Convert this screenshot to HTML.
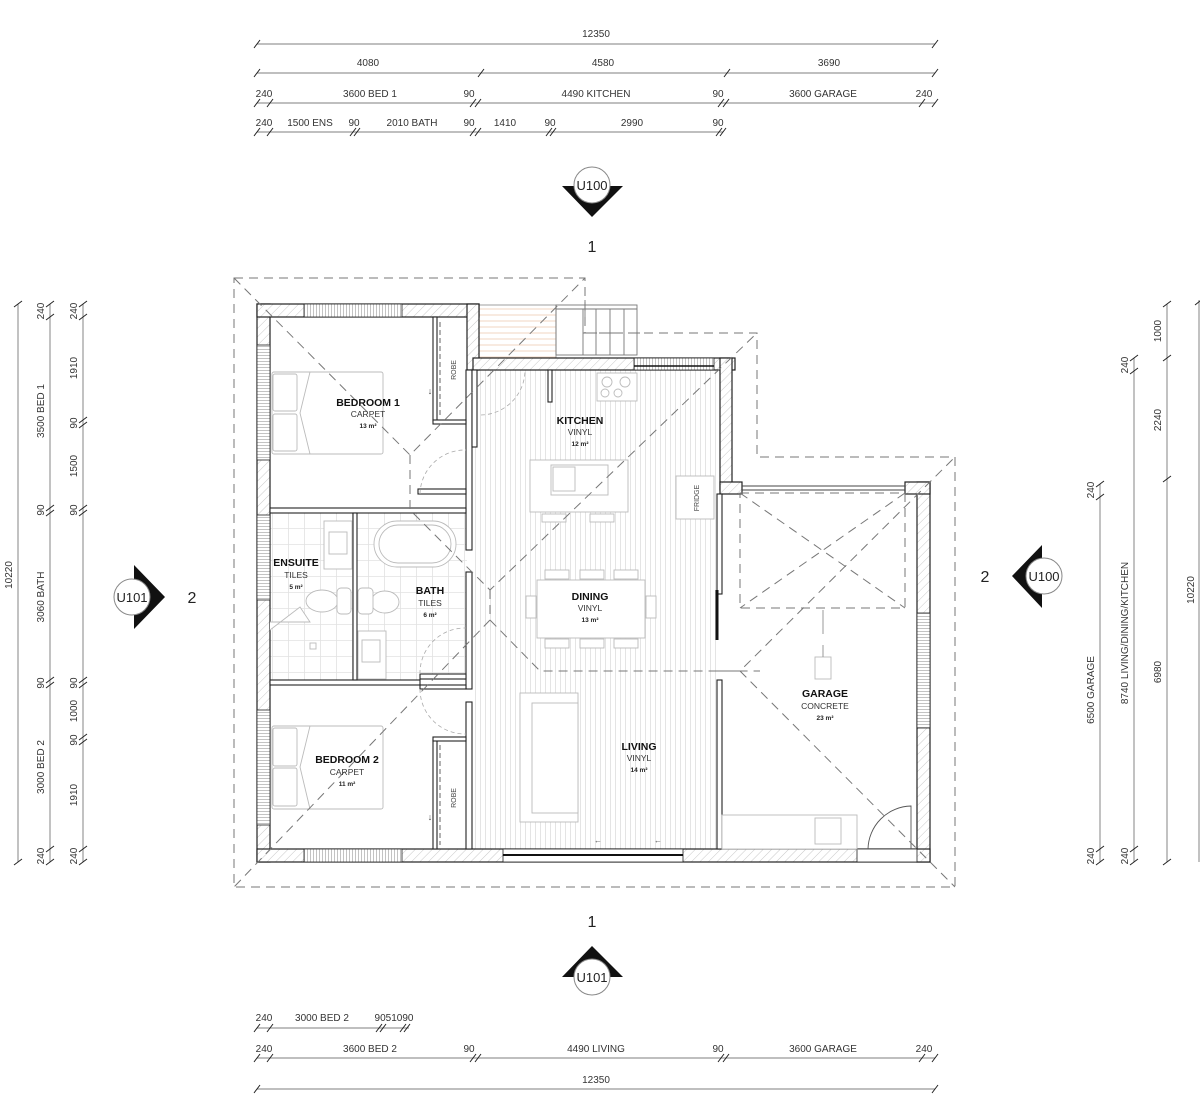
<!DOCTYPE html>
<html><head><meta charset="utf-8"><style>
html,body{margin:0;padding:0;background:#fff;}
svg{display:block;}
text{font-family:"Liberation Sans",sans-serif;}
.d{font-size:10px;fill:#333;}
.rl{font-size:10.5px;font-weight:bold;fill:#111;text-anchor:middle;}
.rs{font-size:8.5px;fill:#333;text-anchor:middle;}
.ra{font-size:6.5px;font-weight:bold;fill:#222;text-anchor:middle;}
.dl{stroke:#999;stroke-width:1.2;fill:none;}
.tk{stroke:#222;stroke-width:1;}
.w{fill:url(#hatch);stroke:#222;stroke-width:1.2;}
.iw{fill:#fff;stroke:#222;stroke-width:1.1;}
.da{stroke:#777;stroke-width:1;fill:none;stroke-dasharray:9,6;}
.f{fill:#fff;stroke:#bbb;stroke-width:0.9;}
</style></head><body>
<svg width="1200" height="1118" viewBox="0 0 1200 1118" xmlns="http://www.w3.org/2000/svg">
<defs>
<pattern id="hatch" width="6" height="6" patternUnits="userSpaceOnUse" patternTransform="rotate(45)"><rect width="6" height="6" fill="#fff"/><line x1="0" y1="0" x2="0" y2="6" stroke="#bbb" stroke-width="0.8"/></pattern>
<pattern id="vinyl" width="5" height="10" patternUnits="userSpaceOnUse"><rect width="5" height="10" fill="#fff"/><line x1="0.5" y1="0" x2="0.5" y2="10" stroke="#ddd" stroke-width="0.8"/></pattern>
<pattern id="tile" width="16" height="16" patternUnits="userSpaceOnUse"><rect width="16" height="16" fill="#fff"/><path d="M0 0.5H16M0.5 0V16" stroke="#e2e2e2" stroke-width="0.8"/></pattern>
<pattern id="deck" width="10" height="6" patternUnits="userSpaceOnUse"><rect width="10" height="6" fill="#fff"/><line x1="0" y1="3" x2="10" y2="3" stroke="#f2d6c2" stroke-width="1"/></pattern>
<pattern id="win" width="3" height="3" patternUnits="userSpaceOnUse"><rect width="3" height="3" fill="#fff"/><line x1="0" y1="1.5" x2="3" y2="1.5" stroke="#aaa" stroke-width="0.7"/></pattern>
<pattern id="winv" width="3" height="3" patternUnits="userSpaceOnUse"><rect width="3" height="3" fill="#fff"/><line x1="1.5" y1="0" x2="1.5" y2="3" stroke="#aaa" stroke-width="0.7"/></pattern>
</defs>

<!-- ===== TOP DIMENSIONS ===== -->
<g>
<line class="dl" x1="257" y1="44" x2="935" y2="44"/>
<line class="dl" x1="257" y1="73" x2="935" y2="73"/>
<line class="dl" x1="257" y1="103" x2="935" y2="103"/>
<line class="dl" x1="257" y1="132" x2="723" y2="132"/>
<g class="tk">
<path d="M254 48L260 40M932 48L938 40"/>
<path d="M254 77L260 69M478 77L484 69M724 77L730 69M932 77L938 69"/>
<path d="M254 107L260 99M267 107L273 99M470 107L476 99M475 107L481 99M718 107L724 99M723 107L729 99M919 107L925 99M932 107L938 99"/>
<path d="M254 136L260 128M267 136L273 128M350 136L356 128M354 136L360 128M470 136L476 128M475 136L481 128M546 136L552 128M550 136L556 128M716 136L722 128M720 136L726 128"/>
</g>
<text class="d" x="596" y="37" text-anchor="middle">12350</text>
<text class="d" x="368" y="66" text-anchor="middle">4080</text>
<text class="d" x="603" y="66" text-anchor="middle">4580</text>
<text class="d" x="829" y="66" text-anchor="middle">3690</text>
<text class="d" x="264" y="97" text-anchor="middle">240</text>
<text class="d" x="370" y="97" text-anchor="middle">3600 BED 1</text>
<text class="d" x="469" y="97" text-anchor="middle">90</text>
<text class="d" x="596" y="97" text-anchor="middle">4490 KITCHEN</text>
<text class="d" x="718" y="97" text-anchor="middle">90</text>
<text class="d" x="823" y="97" text-anchor="middle">3600 GARAGE</text>
<text class="d" x="924" y="97" text-anchor="middle">240</text>
<text class="d" x="264" y="126" text-anchor="middle">240</text>
<text class="d" x="310" y="126" text-anchor="middle">1500 ENS</text>
<text class="d" x="354" y="126" text-anchor="middle">90</text>
<text class="d" x="412" y="126" text-anchor="middle">2010 BATH</text>
<text class="d" x="469" y="126" text-anchor="middle">90</text>
<text class="d" x="505" y="126" text-anchor="middle">1410</text>
<text class="d" x="550" y="126" text-anchor="middle">90</text>
<text class="d" x="632" y="126" text-anchor="middle">2990</text>
<text class="d" x="718" y="126" text-anchor="middle">90</text>
</g>

<!-- ===== BOTTOM DIMENSIONS ===== -->
<g>
<line class="dl" x1="257" y1="1028" x2="409" y2="1028"/>
<line class="dl" x1="257" y1="1058" x2="935" y2="1058"/>
<line class="dl" x1="257" y1="1089" x2="935" y2="1089"/>
<g class="tk">
<path d="M254 1032L260 1024M267 1032L273 1024M376 1032L382 1024M380 1032L386 1024M400 1032L406 1024M404 1032L410 1024"/>
<path d="M254 1062L260 1054M267 1062L273 1054M470 1062L476 1054M475 1062L481 1054M718 1062L724 1054M723 1062L729 1054M919 1062L925 1054M932 1062L938 1054"/>
<path d="M254 1093L260 1085M932 1093L938 1085"/>
</g>
<text class="d" x="264" y="1021" text-anchor="middle">240</text>
<text class="d" x="322" y="1021" text-anchor="middle">3000 BED 2</text>
<text class="d" x="394" y="1021" text-anchor="middle">9051090</text>
<text class="d" x="264" y="1052" text-anchor="middle">240</text>
<text class="d" x="370" y="1052" text-anchor="middle">3600 BED 2</text>
<text class="d" x="469" y="1052" text-anchor="middle">90</text>
<text class="d" x="596" y="1052" text-anchor="middle">4490 LIVING</text>
<text class="d" x="718" y="1052" text-anchor="middle">90</text>
<text class="d" x="823" y="1052" text-anchor="middle">3600 GARAGE</text>
<text class="d" x="924" y="1052" text-anchor="middle">240</text>
<text class="d" x="596" y="1083" text-anchor="middle">12350</text>
</g>

<!-- ===== LEFT DIMENSIONS ===== -->
<g>
<line class="dl" x1="18" y1="304" x2="18" y2="862"/>
<line class="dl" x1="50" y1="304" x2="50" y2="862"/>
<line class="dl" x1="83" y1="304" x2="83" y2="862"/>
<g class="tk">
<path d="M14 307L22 301M14 865L22 859"/>
<path d="M46 307L54 301M46 320L54 314M46 511L54 505M46 516L54 510M46 683L54 677M46 688L54 682M46 852L54 846M46 865L54 859"/>
<path d="M79 307L87 301M79 320L87 314M79 423L87 417M79 428L87 422M79 511L87 505M79 516L87 510M79 683L87 677M79 688L87 682M79 740L87 734M79 745L87 739M79 852L87 846M79 865L87 859"/>
</g>
<g class="d" text-anchor="middle">
<text transform="translate(12,575) rotate(-90)">10220</text>
<text transform="translate(44,311) rotate(-90)">240</text>
<text transform="translate(44,411) rotate(-90)">3500 BED 1</text>
<text transform="translate(44,510) rotate(-90)">90</text>
<text transform="translate(44,597) rotate(-90)">3060 BATH</text>
<text transform="translate(44,683) rotate(-90)">90</text>
<text transform="translate(44,767) rotate(-90)">3000 BED 2</text>
<text transform="translate(44,856) rotate(-90)">240</text>
<text transform="translate(77,311) rotate(-90)">240</text>
<text transform="translate(77,368) rotate(-90)">1910</text>
<text transform="translate(77,423) rotate(-90)">90</text>
<text transform="translate(77,466) rotate(-90)">1500</text>
<text transform="translate(77,510) rotate(-90)">90</text>
<text transform="translate(77,683) rotate(-90)">90</text>
<text transform="translate(77,711) rotate(-90)">1000</text>
<text transform="translate(77,740) rotate(-90)">90</text>
<text transform="translate(77,795) rotate(-90)">1910</text>
<text transform="translate(77,856) rotate(-90)">240</text>
</g>
</g>

<!-- ===== RIGHT DIMENSIONS ===== -->
<g>
<line class="dl" x1="1100" y1="484" x2="1100" y2="862"/>
<line class="dl" x1="1134" y1="358" x2="1134" y2="862"/>
<line class="dl" x1="1167" y1="304" x2="1167" y2="862"/>
<line class="dl" x1="1199" y1="300" x2="1199" y2="862"/>
<g class="tk">
<path d="M1096 487L1104 481M1096 500L1104 494M1096 852L1104 846M1096 865L1104 859"/>
<path d="M1130 361L1138 355M1130 374L1138 368M1130 852L1138 846M1130 865L1138 859"/>
<path d="M1163 307L1171 301M1163 361L1171 355M1163 482L1171 476M1163 865L1171 859"/>
<path d="M1195 305L1200 301"/>
</g>
<g class="d" text-anchor="middle">
<text transform="translate(1094,490) rotate(-90)">240</text>
<text transform="translate(1094,690) rotate(-90)">6500 GARAGE</text>
<text transform="translate(1094,856) rotate(-90)">240</text>
<text transform="translate(1128,365) rotate(-90)">240</text>
<text transform="translate(1128,633) rotate(-90)">8740 LIVING/DINING/KITCHEN</text>
<text transform="translate(1128,856) rotate(-90)">240</text>
<text transform="translate(1161,331) rotate(-90)">1000</text>
<text transform="translate(1161,420) rotate(-90)">2240</text>
<text transform="translate(1161,672) rotate(-90)">6980</text>
<text transform="translate(1194,590) rotate(-90)">10220</text>
</g>
</g>

<!-- ===== SECTION MARKERS ===== -->
<g>
<polygon points="562,186 623,186 592,217" fill="#111"/>
<circle cx="592" cy="185" r="18" fill="#fff" stroke="#888"/>
<text x="592" y="190" font-size="13" text-anchor="middle" fill="#222">U100</text>
<text x="592" y="252" font-size="16" text-anchor="middle" fill="#222">1</text>

<polygon points="562,977 623,977 592,946" fill="#111"/>
<circle cx="592" cy="977" r="18" fill="#fff" stroke="#888"/>
<text x="592" y="982" font-size="13" text-anchor="middle" fill="#222">U101</text>
<text x="592" y="927" font-size="16" text-anchor="middle" fill="#222">1</text>

<polygon points="134,565 134,629 165,597" fill="#111"/>
<circle cx="132" cy="597" r="18" fill="#fff" stroke="#888"/>
<text x="132" y="602" font-size="13" text-anchor="middle" fill="#222">U101</text>
<text x="192" y="603" font-size="16" text-anchor="middle" fill="#222">2</text>

<polygon points="1042,545 1042,608 1012,576" fill="#111"/>
<circle cx="1044" cy="576" r="18" fill="#fff" stroke="#888"/>
<text x="1044" y="581" font-size="13" text-anchor="middle" fill="#222">U100</text>
<text x="985" y="582" font-size="16" text-anchor="middle" fill="#222">2</text>
</g>

<!-- ===== FLOORS ===== -->
<rect x="473" y="370" width="247" height="479" fill="url(#vinyl)"/>
<rect x="270" y="513" width="197" height="167" fill="url(#tile)"/>
<rect x="479" y="305" width="77" height="53" fill="url(#deck)" stroke="#888" stroke-width="0.8"/>
<g stroke="#777" stroke-width="0.9" fill="none">
<rect x="556" y="305" width="81" height="50"/>
<path d="M583 309V355M596 309V355M610 309V355M624 309V355M556 309H637"/>
<path d="M583 333H597M607 333H617M628 333H640"/>
<path d="M585 300V318"/>
</g>

<!-- ===== WALLS ===== -->
<rect class="w" x="257" y="304" width="13" height="558"/>
<rect class="w" x="257" y="304" width="222" height="13"/>
<rect class="w" x="467" y="304" width="12" height="66"/>
<rect class="w" x="473" y="358" width="262" height="12"/>
<rect class="w" x="720" y="358" width="12" height="132"/>
<rect class="w" x="917" y="482" width="13" height="380"/>
<rect class="w" x="257" y="849" width="673" height="13"/>
<rect class="w" x="720" y="482" width="22" height="12"/>
<rect class="w" x="905" y="482" width="25" height="12"/>
<path d="M742 486H905M742 490H905" stroke="#444" stroke-width="0.9"/>
<rect x="257" y="345" width="13" height="115" fill="url(#win)" stroke="#222" stroke-width="0.8"/>
<rect x="257" y="515" width="13" height="85" fill="url(#win)" stroke="#222" stroke-width="0.8"/>
<rect x="257" y="710" width="13" height="115" fill="url(#win)" stroke="#222" stroke-width="0.8"/>
<rect x="304" y="304" width="98" height="13" fill="url(#winv)" stroke="#222" stroke-width="0.8"/>
<rect x="304" y="849" width="98" height="13" fill="url(#winv)" stroke="#222" stroke-width="0.8"/>
<rect x="503" y="849" width="180" height="13" fill="#fff" stroke="#222" stroke-width="0.8"/>
<path d="M503 855H683" stroke="#111" stroke-width="2"/>
<rect x="634" y="358" width="80" height="12" fill="url(#winv)" stroke="#222" stroke-width="0.8"/>
<path d="M634 366H714" stroke="#111" stroke-width="1.5"/>
<rect x="917" y="613" width="13" height="115" fill="url(#win)" stroke="#222" stroke-width="0.8"/>
<rect x="857" y="849" width="60" height="13" fill="#fff" stroke="#222" stroke-width="0.8"/>
<rect class="iw" x="466" y="370" width="6" height="180"/>
<rect class="iw" x="466" y="572" width="6" height="117"/>
<rect class="iw" x="466" y="702" width="6" height="147"/>
<rect class="iw" x="270" y="508" width="196" height="5"/>
<rect class="iw" x="270" y="680" width="150" height="5"/>
<rect class="iw" x="420" y="674" width="46" height="5"/>
<rect class="iw" x="420" y="685" width="46" height="4"/>
<rect class="iw" x="353" y="513" width="4" height="167"/>
<rect class="iw" x="717" y="494" width="5" height="100"/>
<rect class="iw" x="717" y="680" width="5" height="169"/>
<rect class="iw" x="472" y="370" width="5" height="77"/>
<rect class="iw" x="548" y="370" width="4" height="32"/>
<path d="M717 590V640" stroke="#111" stroke-width="3"/>
<rect class="iw" x="433" y="317" width="4" height="104"/>
<rect class="iw" x="433" y="420" width="33" height="4"/>
<path d="M440 322V416" stroke="#666" stroke-dasharray="5,3"/>
<rect class="iw" x="433" y="740" width="4" height="109"/>
<rect class="iw" x="433" y="737" width="33" height="4"/>
<path d="M440 745V845" stroke="#666" stroke-dasharray="5,3"/>
<rect class="iw" x="418" y="489" width="48" height="5"/>
<text x="456" y="370" font-size="7" fill="#444" text-anchor="middle" transform="rotate(-90 456 370)">ROBE</text>
<text x="456" y="798" font-size="7" fill="#444" text-anchor="middle" transform="rotate(-90 456 798)">ROBE</text>
<text x="430" y="394" font-size="9" fill="#444" text-anchor="middle">↓</text>
<text x="430" y="820" font-size="9" fill="#444" text-anchor="middle">↓</text>

<g stroke="#aaa" stroke-width="0.8" fill="none" stroke-dasharray="4,3">
<path d="M420 494A45 45 0 0 1 466 450"/>
<path d="M420 674A45 45 0 0 1 466 628"/>
<path d="M420 689A45 45 0 0 0 466 734"/>
<path d="M481 415A45 45 0 0 0 525 370"/>
</g>
<path d="M868 849A44 44 0 0 1 911 806V849" stroke="#555" stroke-width="0.9" fill="none"/>

<!-- ===== FURNITURE ===== -->
<g class="f">
<rect x="272" y="372" width="111" height="82" rx="2"/>
<rect x="273" y="374" width="24" height="37" rx="2"/>
<rect x="273" y="414" width="24" height="37" rx="2"/>
<path d="M310 372L300 413L310 454"/>
<rect x="272" y="726" width="111" height="83" rx="2"/>
<rect x="273" y="728" width="24" height="38" rx="2"/>
<rect x="273" y="768" width="24" height="38" rx="2"/>
<path d="M310 726L300 767L310 809"/>
<rect x="374" y="521" width="82" height="46" rx="23"/>
<rect x="379" y="525" width="72" height="38" rx="19"/>
<rect x="324" y="521" width="28" height="48"/>
<rect x="329" y="532" width="18" height="22"/>
<rect x="358" y="631" width="28" height="48"/>
<rect x="362" y="640" width="18" height="22"/>
<ellipse cx="322" cy="601" rx="16" ry="11"/><rect x="337" y="588" width="14" height="26" rx="4"/>
<ellipse cx="385" cy="602" rx="14" ry="11"/><rect x="358" y="588" width="15" height="26" rx="4"/>
<path d="M270 622H310L300 607L270 630" />
<rect x="310" y="643" width="6" height="6"/>
<rect x="597" y="373" width="40" height="28"/>
<circle cx="607" cy="382" r="5"/><circle cx="625" cy="382" r="5"/><circle cx="605" cy="393" r="4"/><circle cx="618" cy="393" r="4"/>
<rect x="530" y="460" width="98" height="52"/>
<rect x="551" y="465" width="57" height="30"/>
<rect x="553" y="467" width="22" height="24"/>
<rect x="676" y="476" width="38" height="43"/>
<rect x="542" y="514" width="24" height="8"/><rect x="590" y="514" width="24" height="8"/>
<rect x="537" y="580" width="108" height="58"/>
<rect x="545" y="570" width="24" height="9"/><rect x="580" y="570" width="24" height="9"/><rect x="614" y="570" width="24" height="9"/>
<rect x="545" y="639" width="24" height="9"/><rect x="580" y="639" width="24" height="9"/><rect x="614" y="639" width="24" height="9"/>
<rect x="526" y="596" width="10" height="22"/><rect x="646" y="596" width="10" height="22"/>
<rect x="520" y="693" width="58" height="129"/>
<rect x="532" y="703" width="46" height="110"/>
<rect x="722" y="815" width="135" height="34"/>
<rect x="815" y="818" width="26" height="26"/>
<rect x="815" y="657" width="16" height="22"/>
</g>
<path d="M823 610V634M823 645V657" stroke="#999"/>
<text x="598" y="843" font-size="8" fill="#555" text-anchor="middle">←</text>
<text x="658" y="843" font-size="8" fill="#555" text-anchor="middle">←</text>
<text x="699" y="498" font-size="7" fill="#444" text-anchor="middle" transform="rotate(-90 699 498)">FRIDGE</text>

<!-- ===== ROOF / DASHED LINES ===== -->
<path class="da" d="M234 278H585V333H757V457H955V887H234Z"/>
<g class="da">
<path d="M234 278L410 455L585 278"/>
<path d="M410 455V510L490 590L757 333"/>
<path d="M490 590V620L234 887"/>
<path d="M490 620L540 671H760"/>
<path d="M716 671H740L955 457"/>
<path d="M740 671L955 887"/>
<rect x="740" y="493" width="165" height="115"/>
<path d="M740 493L905 608M905 493L740 608"/>
</g>

<!-- ===== LABELS ===== -->
<text class="rl" x="368" y="406">BEDROOM 1</text>
<text class="rs" x="368" y="417">CARPET</text>
<text class="ra" x="368" y="428">13 m²</text>
<text class="rl" x="580" y="424">KITCHEN</text>
<text class="rs" x="580" y="435">VINYL</text>
<text class="ra" x="580" y="446">12 m²</text>
<text class="rl" x="296" y="566">ENSUITE</text>
<text class="rs" x="296" y="578">TILES</text>
<text class="ra" x="296" y="589">5 m²</text>
<text class="rl" x="430" y="594">BATH</text>
<text class="rs" x="430" y="606">TILES</text>
<text class="ra" x="430" y="617">6 m²</text>
<text class="rl" x="590" y="600">DINING</text>
<text class="rs" x="590" y="611">VINYL</text>
<text class="ra" x="590" y="622">13 m²</text>
<text class="rl" x="825" y="697">GARAGE</text>
<text class="rs" x="825" y="709">CONCRETE</text>
<text class="ra" x="825" y="720">23 m²</text>
<text class="rl" x="639" y="750">LIVING</text>
<text class="rs" x="639" y="761">VINYL</text>
<text class="ra" x="639" y="772">14 m²</text>
<text class="rl" x="347" y="763">BEDROOM 2</text>
<text class="rs" x="347" y="775">CARPET</text>
<text class="ra" x="347" y="786">11 m²</text>
</svg>
</body></html>
